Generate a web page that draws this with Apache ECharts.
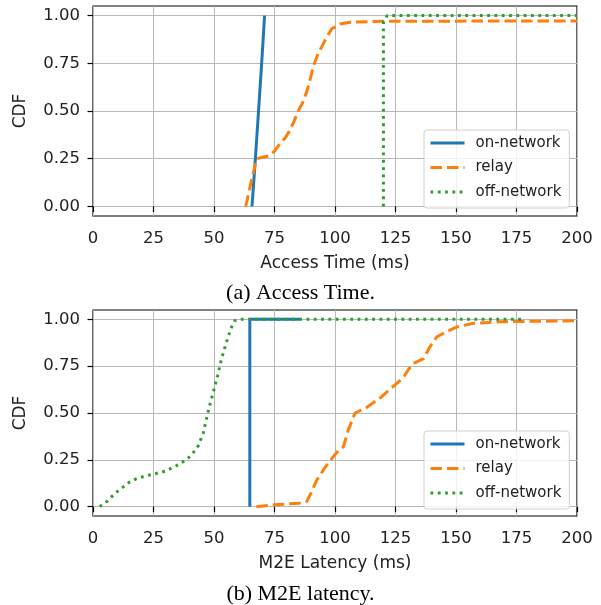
<!DOCTYPE html>
<html>
<head>
<meta charset="utf-8">
<script src="https://cdn.jsdelivr.net/npm/echarts@6/dist/echarts.min.js"></script>
<style>
  html, body { margin: 0; background: #fff; }
  #main { width: 601px; height: 605px; }
</style>
</head>
<body>
<div id="main"></div>
<script>
// (a) access time
var accessOnX = [65.7, 67.1, 68.4, 69.7, 70.9];
var accessOnY = [0, 0.25, 0.5, 0.75, 1.0];
var accessRelayX = [63.1, 65.2, 67.6, 70, 72.8, 75, 77.3, 79.5, 81.4, 83.2, 84.8, 86.5, 88.3, 89.8, 91.2, 93.0, 95.9, 98.6, 102.1, 106.2, 120, 200];
var accessRelayY = [0, 0.12, 0.25, 0.258, 0.265, 0.29, 0.33, 0.36, 0.40, 0.45, 0.50, 0.54, 0.6, 0.67, 0.74, 0.80, 0.87, 0.93, 0.956, 0.965, 0.97, 0.972];
var accessOffX = [120, 120, 121.6, 200];
var accessOffY = [0, 0.97, 1.0, 1.0];

// (b) M2E latency
var m2eOnX = [64.8, 64.8, 85.6];
var m2eOnY = [0, 1.0, 1.0];
var m2eRelayX = [67.5, 75, 85, 88.3, 90, 92.4, 95.9, 99.3, 101.5, 103.5, 105.5, 108.3, 113.1, 118.6, 124.8, 128.3, 130.2, 132.4, 136.6, 139.3, 142.1, 146.2, 150.4, 157.2, 168.3, 200];
var m2eRelayY = [0, 0.01, 0.018, 0.027, 0.07, 0.14, 0.21, 0.267, 0.3, 0.32, 0.41, 0.5, 0.53, 0.58, 0.65, 0.69, 0.73, 0.765, 0.79, 0.855, 0.907, 0.934, 0.96, 0.979, 0.987, 0.993];
var m2eOffX = [2.8, 6, 9, 12, 15, 18, 22, 25.5, 30, 34, 38.6, 41, 43.5, 45.5, 46.9, 48.2, 49.7, 51.5, 53.1, 54.5, 55.9, 57.3, 58.6, 60, 177.3];
var m2eOffY = [0, 0.03, 0.07, 0.1, 0.13, 0.15, 0.165, 0.175, 0.19, 0.215, 0.25, 0.28, 0.325, 0.39, 0.47, 0.54, 0.61, 0.7, 0.79, 0.85, 0.91, 0.96, 0.993, 1.0, 1.0];

var seriesNames = ['on-network', 'relay', 'off-network'];
var yTicks = [0, 0.25, 0.5, 0.75, 1.0];
var xTitles = ['Access Time (ms)', 'M2E Latency (ms)'];
var captions = ['(a) Access Time.', '(b) M2E latency.'];

var colors = ['#1f77b4', '#ff7f0e', '#2ca02c'];
var dashes = ['solid', [11.5, 5], [2.8, 4.5]];
var tickFont = 'DejaVu Sans';

function zip(xs, ys) {
  var out = [];
  for (var i = 0; i < xs.length; i++) out.push([xs[i], ys[i]]);
  return out;
}

var myChart = echarts.init(document.getElementById('main'));

function xAxisFor(i) {
  return {
    gridIndex: i, type: 'value', min: 0, max: 200, interval: 25,
    name: xTitles[i], nameLocation: 'middle', nameGap: 39,
    nameTextStyle: { fontFamily: tickFont, fontSize: 17, color: '#222' },
    axisLine: { show: false },
    axisTick: { show: true, length: 5.5, lineStyle: { color: '#000', width: 1.2 } },
    axisLabel: { fontFamily: tickFont, fontSize: 16.5, color: '#222', margin: 14 },
    splitLine: { show: true, lineStyle: { color: '#b8b8b8', width: 1 } }
  };
}

function yAxisFor(i) {
  return {
    gridIndex: i, type: 'value', min: -0.05, max: 1.05,
    name: 'CDF', nameLocation: 'middle', nameGap: 64, nameRotate: 90,
    nameTextStyle: { fontFamily: tickFont, fontSize: 17, color: '#222' },
    axisLine: { show: false },
    axisTick: { show: true, length: 5.5, customValues: yTicks, lineStyle: { color: '#000', width: 1.2 } },
    axisLabel: {
      fontFamily: tickFont, fontSize: 16.5, color: '#222', margin: 13,
      customValues: yTicks,
      formatter: function (v) { return v.toFixed(2); }
    },
    splitLine: { show: true, lineStyle: { color: '#b8b8b8', width: 1 } }
  };
}

function legendFor(top) {
  return {
    orient: 'vertical', left: 424, top: top,
    padding: [4, 8, 7, 5], itemGap: 6.5,
    itemWidth: 34, itemHeight: 1,
    itemStyle: { opacity: 0 },
    lineStyle: { width: 3 },
    backgroundColor: 'rgba(255,255,255,0.8)',
    borderColor: '#d0d0d0', borderWidth: 1, borderRadius: 3,
    textStyle: { fontFamily: tickFont, fontSize: 15, color: '#222', lineHeight: 18, padding: [0, 0, 0, 6] },
    data: seriesNames
  };
}

var plots = [
  [zip(accessOnX, accessOnY), zip(accessRelayX, accessRelayY), zip(accessOffX, accessOffY)],
  [zip(m2eOnX, m2eOnY), zip(m2eRelayX, m2eRelayY), zip(m2eOffX, m2eOffY)]
];

var series = [];
for (var g = 0; g < plots.length; g++) {
  for (var s = 0; s < 3; s++) {
    series.push({
      name: seriesNames[s], type: 'line',
      xAxisIndex: g, yAxisIndex: g,
      data: plots[g][s], symbol: 'none', color: colors[s],
      lineStyle: { color: colors[s], width: 3, type: dashes[s], cap: 'butt' }
    });
  }
}

var option = {
  animation: false,
  backgroundColor: '#fff',
  grid: [
    { left: 93, top: 6, width: 484, height: 210, show: true, borderColor: '#000', borderWidth: 1.2, backgroundColor: 'transparent' },
    { left: 93, top: 310, width: 484, height: 206, show: true, borderColor: '#000', borderWidth: 1.2, backgroundColor: 'transparent' }
  ],
  xAxis: [xAxisFor(0), xAxisFor(1)],
  yAxis: [yAxisFor(0), yAxisFor(1)],
  legend: [legendFor(130), legendFor(431)],
  series: series,
  graphic: [
    { type: 'text', left: 'center', top: 282, style: { text: captions[0], font: '22px "Liberation Serif"', fill: '#000' } },
    { type: 'text', left: 'center', top: 583, style: { text: captions[1], font: '22px "Liberation Serif"', fill: '#000' } }
  ]
};
myChart.setOption(option);
</script>
</body>
</html>
